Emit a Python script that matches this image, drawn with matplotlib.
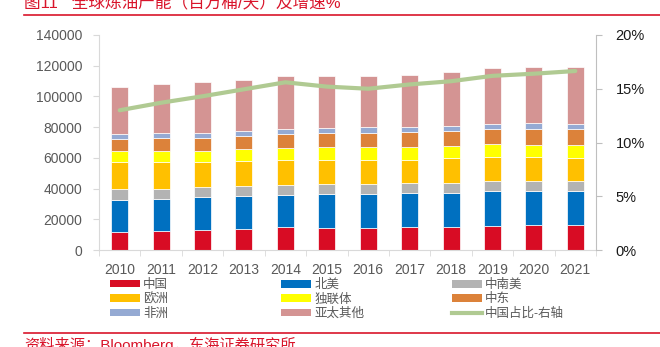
import matplotlib
matplotlib.use("Agg")
import matplotlib.pyplot as plt
from matplotlib.patches import Patch
from matplotlib.lines import Line2D
import numpy as np

plt.rcParams['font.family'] = ['Liberation Sans', 'Noto Sans CJK SC', 'DejaVu Sans']

years = ['2010', '2011', '2012', '2013', '2014', '2015', '2016', '2017', '2018', '2019', '2020', '2021']

# stacked capacity by region (thousand barrels / day)
china = [12000, 12400, 13300, 13900, 14800, 14600, 14400, 14800, 15200, 15700, 16100, 16500]
north_america = [20650, 20900, 21300, 21350, 21100, 21550, 21950, 22000, 22200, 22600, 22000, 21600]
latin_america = [6750, 6550, 6100, 6500, 6750, 6750, 6550, 6750, 6550, 6350, 6550, 6550]
europe = [17600, 17400, 16300, 15900, 15700, 15650, 15450, 15250, 15650, 15850, 15650, 15000]
cis = [7200, 7400, 7400, 7800, 8050, 8300, 8500, 8500, 8300, 8300, 8300, 8450]
middle_east = [8300, 8300, 8300, 8700, 8900, 9150, 9350, 9350, 9550, 10200, 10200, 10500]
africa = [3250, 3450, 3500, 3300, 3500, 3700, 3700, 3450, 3300, 3300, 3700, 3450]
asia_other = [30700, 31600, 32900, 33500, 34200, 33300, 33500, 34000, 35200, 35900, 36400, 36800]

china_share = [13.0, 13.7, 14.3, 14.95, 15.6, 15.2, 15.0, 15.4, 15.7, 16.2, 16.4, 16.65]

series = [
    ('中国', china, '#D80C24'),
    ('北美', north_america, '#0070C0'),
    ('中南美', latin_america, '#B3B3B3'),
    ('欧洲', europe, '#FFC000'),
    ('独联体', cis, '#FFFF00'),
    ('中东', middle_east, '#DC823A'),
    ('非洲', africa, '#95AAD3'),
    ('亚太其他', asia_other, '#D49493'),
]
line_color = '#B0CA92'
red = '#D9152B'

fig = plt.figure(figsize=(6.6, 3.47), dpi=100)
ax = fig.add_axes([99 / 660, 1 - 250 / 347, (596 - 99) / 660, 215 / 347])

x = np.arange(len(years))
bottom = np.zeros(len(years))
for name, vals, col in series:
    ax.bar(x, vals, 0.41, bottom=bottom, color=col, edgecolor='white', linewidth=0.5, zorder=2)
    bottom += np.array(vals)

ax.set_xlim(-0.5, len(years) - 0.5)
ax.set_ylim(0, 140000)
ax.set_yticks(range(0, 140001, 20000))
ax.set_xticks(x)
ax.set_xticklabels(years)
ax.set_xticks(np.arange(-0.5, len(years), 1), minor=True)
ax.tick_params(axis='x', which='major', length=0, pad=9, labelsize=10, labelcolor='#595959')
ax.tick_params(axis='x', which='minor', length=4, color='#D9D9D9', direction='out')
ax.tick_params(axis='y', length=4, color='#D9D9D9', labelsize=10, labelcolor='#595959', pad=8)
for s in ['top', 'right']:
    ax.spines[s].set_visible(False)
for s in ['left', 'bottom']:
    ax.spines[s].set_color('#D9D9D9')

ax2 = ax.twinx()
ax2.plot(x, china_share, color=line_color, linewidth=3, solid_capstyle='round', zorder=3)
ax2.set_ylim(0, 20)
ax2.set_yticks([0, 5, 10, 15, 20])
ax2.set_yticklabels(['0%', '5%', '10%', '15%', '20%'])
ax2.tick_params(axis='y', length=4, color='#BFBFBF', labelsize=10.5, labelcolor='#1A1A1A', pad=10)
for s in ['top', 'left', 'bottom']:
    ax2.spines[s].set_visible(False)
ax2.spines['right'].set_color('#BFBFBF')

# legend: three columns laid out row by row
handles = [Patch(facecolor=c, edgecolor='none', label=n) for n, v, c in series]
handles.append(Line2D([0], [0], color=line_color, lw=3, label='中国占比-右轴'))
cols = [handles[0::3], handles[1::3], handles[2::3]]
col_x = [110, 281, 452]
for hx, hs in zip(col_x, cols):
    leg = fig.legend(handles=hs, loc='upper left', bbox_to_anchor=(hx / 660, 1 - 279 / 347),
                     frameon=False, fontsize=9, handlelength=2.4, handleheight=0.55,
                     handletextpad=0.25, labelspacing=0.18, borderpad=0, borderaxespad=0)
    for t in leg.get_texts():
        t.set_color('#595959')

# header and footer
fig.text(24 / 660, 1 - 2 / 347, '图11   全球炼油产能（百万桶/天）及增速%', color=red,
         fontsize=12, va='center', ha='left')
fig.add_artist(Line2D([24 / 660, 1], [1 - 15 / 347, 1 - 15 / 347], color=red, lw=1.2))
fig.add_artist(Line2D([24 / 660, 1], [1 - 333 / 347, 1 - 333 / 347], color=red, lw=1.2))
fig.text(24 / 660, 1 - 345 / 347, '资料来源：Bloomberg，东海证券研究所', color=red,
         fontsize=11, va='center', ha='left')

fig.savefig('out.png', dpi=100)
